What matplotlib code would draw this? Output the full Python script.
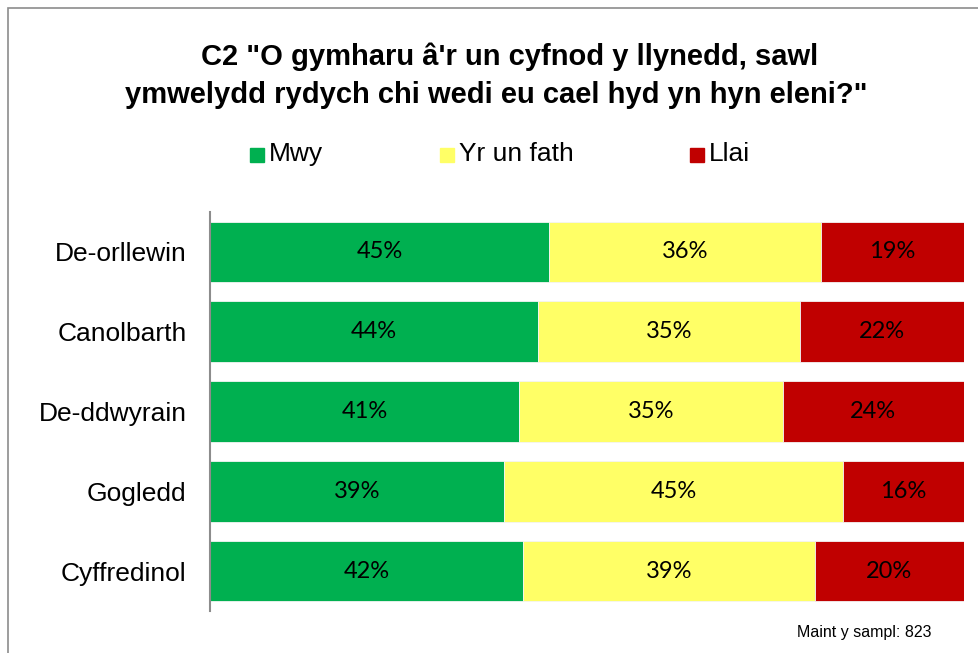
import matplotlib.pyplot as plt
import matplotlib.patches as mpatches
import numpy as np

# Data
categories = ['De-orllewin', 'Canolbarth', 'De-ddwyrain', 'Gogledd', 'Cyffredinol']
mwy = [45, 44, 41, 39, 42]
yr_un_fath = [36, 35, 35, 45, 39]
llai = [19, 22, 24, 16, 20]
series_names = ['Mwy', 'Yr un fath', 'Llai']
colors = ['#00B050', '#FFFF66', '#C00000']

title_lines = ['C2 "O gymharu â\'r un cyfnod y llynedd, sawl',
               'ymwelydd rydych chi wedi eu cael hyd yn hyn eleni?"']
note = 'Maint y sampl: 823'

plt.rcParams['font.family'] = ['Liberation Sans', 'DejaVu Sans']

fig = plt.figure(figsize=(9.79, 6.53), dpi=100)
ax = fig.add_axes([0.2145, 0.0643, 0.770, 0.611])

data = np.array([mwy, yr_un_fath, llai], dtype=float)
totals = data.sum(axis=0)
y = np.arange(len(categories))
left = np.zeros(len(categories))
for vals, col in zip(data, colors):
    widths = vals / totals * 100
    ax.barh(y, widths, left=left, height=0.76, color=col, edgecolor='#f4f4f4', linewidth=0.6)
    for yi, l, w, v in zip(y, left, widths, vals):
        ax.text(l + w / 2, yi, f'{int(v)}%', ha='center', va='center',
                fontsize=17, family=['Lato', 'DejaVu Sans'], color='black')
    left += widths

ax.set_xlim(0, 100)
ax.set_ylim(len(categories) - 0.5, -0.5)
ax.set_yticks(y)
ax.set_yticklabels(categories, fontsize=19)
ax.tick_params(axis='y', length=0, pad=17)
ax.set_xticks([])
for s in ['top', 'right', 'bottom']:
    ax.spines[s].set_visible(False)
ax.spines['left'].set_color('#8c8c8c')
ax.spines['left'].set_linewidth(1.5)

# Title, two lines centred separately
fig.text(510 / 979, 1 - 57 / 653, title_lines[0], ha='center', va='center',
         fontsize=21, fontweight='bold')
fig.text(496 / 979, 1 - 95 / 653, title_lines[1], ha='center', va='center',
         fontsize=21, fontweight='bold')

# Legend (manual placement like the original)
leg_x = [250, 440, 690]
for xp, name, col in zip(leg_x, series_names, colors):
    fig.patches.append(mpatches.Rectangle((xp / 979, 1 - 162 / 653), 14 / 979, 14 / 653,
                                          transform=fig.transFigure, color=col))
    fig.text((xp + 19) / 979, 1 - 154 / 653, name, ha='left', va='center', fontsize=19)

fig.text(932 / 979, 1 - 632 / 653, note, ha='right', va='center', fontsize=11.5)

# Frame border
fig.patches.append(mpatches.Rectangle((8 / 979, -0.1), 1.2, 1 - 8 / 653 + 0.1,
                                      transform=fig.transFigure, fill=False,
                                      edgecolor='#8c8c8c', linewidth=1.2))

fig.savefig('out.png', dpi=100)
